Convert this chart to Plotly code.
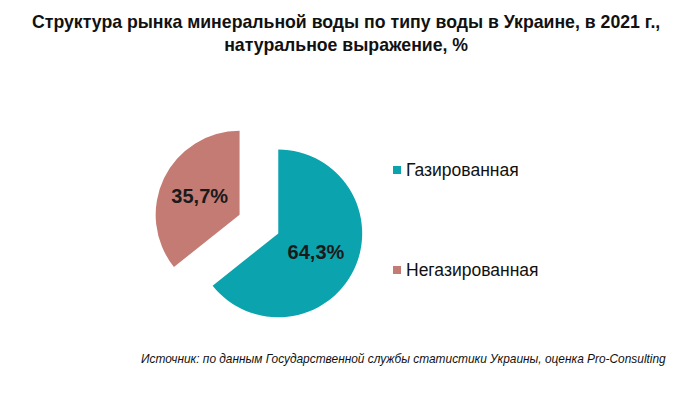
import plotly.graph_objects as go

labels = ["Газированная", "Негазированная"]
values = [64.3, 35.7]
colors = ["#0AA3AE", "#C47B74"]
title_text = "Структура рынка минеральной воды по типу воды в Украине, в 2021 г.,<br>натуральное выражение, %"
source_text = "Источник: по данным Государственной службы статистики Украины, оценка Pro-Consulting"

W, H = 690, 398
fig = go.Figure()
fig.add_trace(go.Pie(
    labels=labels, values=values, sort=False, direction="clockwise", rotation=0,
    marker=dict(colors=colors, line=dict(width=0)),
    pull=[0.256, 0.256],
    texttemplate="%{percent:.1%}", textposition="inside",
    insidetextorientation="horizontal",
    textfont=dict(family="Liberation Sans, Arial", size=20, color="#1a1a1a", weight="bold"),
    domain=dict(x=[0.2225, 0.528], y=[0.172, 0.702]),
    showlegend=False, hoverinfo="label+percent",
))

annotations = [
    dict(text="<b>" + title_text + "</b>", x=0.502, y=1 - 10 / H, xref="paper", yref="paper",
         xanchor="center", yanchor="top", showarrow=False,
         font=dict(family="Liberation Sans, Arial", size=17.7, color="#111")),
    dict(text="<i>" + source_text + "</i>", x=668 / W, y=1 - 359 / H, xref="paper", yref="paper",
         xanchor="right", yanchor="middle", showarrow=False,
         font=dict(family="Liberation Sans, Arial", size=11.9, color="#111")),
]
shapes = []
legend_y = [170, 270]
for lab, col, ly in zip(labels, colors, legend_y):
    shapes.append(dict(type="rect", xref="paper", yref="paper",
                       x0=393 / W, x1=401 / W, y0=1 - (ly + 4) / H, y1=1 - (ly - 4) / H,
                       fillcolor=col, line=dict(width=0)))
    annotations.append(dict(text=lab, x=404 / W, y=1 - ly / H, xref="paper", yref="paper",
                            xanchor="left", yanchor="middle", showarrow=False,
                            font=dict(family="Liberation Sans, Arial", size=17.5, color="#111")))

fig.update_layout(
    width=W, height=H, margin=dict(l=0, r=0, t=0, b=0),
    paper_bgcolor="white", plot_bgcolor="white", separators=", ",
    showlegend=False,
    annotations=annotations, shapes=shapes,
)
fig.write_html("out.html", config={"displayModeBar": False},
               post_script="document.body.style.margin='0';")
